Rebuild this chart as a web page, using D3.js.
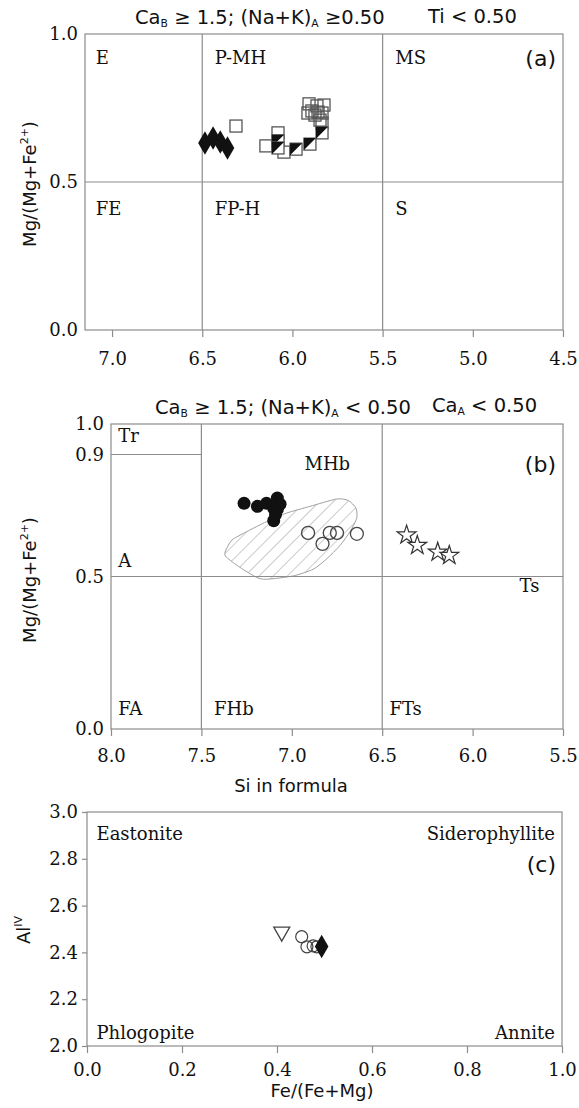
<!DOCTYPE html>
<html>
<head>
<meta charset="utf-8">
<script src="https://cdn.jsdelivr.net/npm/d3@7"></script>
<style>
  body { margin: 0; background: #fff; }
  svg { display: block; }
</style>
</head>
<body>
<div id="chart"></div>
<script>
// ---- panel (a): Si vs Mg/(Mg+Fe2+), CaB >= 1.5, (Na+K)A >= 0.50
const aXTicks = [7.0, 6.5, 6.0, 5.5, 5.0, 4.5];
const aYTicks = [0.0, 0.5, 1.0];
const aSiBounds = [6.5, 5.5];
const aMgBound = 0.5;
const aFields = [
  { t: 'E', x: 7.09, y: 0.9 }, { t: 'P-MH', x: 6.43, y: 0.9 }, { t: 'MS', x: 5.43, y: 0.9 },
  { t: 'FE', x: 7.09, y: 0.39 }, { t: 'FP-H', x: 6.43, y: 0.39 }, { t: 'S', x: 5.43, y: 0.39 }
];
const aDiamonds = [[6.485, 0.632], [6.44, 0.649], [6.40, 0.635], [6.36, 0.615]];
const aSquares = [
  [6.313, 0.689], [6.147, 0.622], [6.08, 0.666], [6.047, 0.601], [5.836, 0.699],
  [5.908, 0.764], [5.864, 0.757], [5.825, 0.760], [5.892, 0.740], [5.858, 0.736],
  [5.914, 0.733], [5.836, 0.733], [5.875, 0.726], [5.847, 0.709]
];
const aHalfSquares = [[6.08, 0.639], [6.08, 0.615], [5.98, 0.611], [5.903, 0.628], [5.836, 0.666]];

// ---- panel (b): CaB >= 1.5, (Na+K)A < 0.50
const bXTicks = [8.0, 7.5, 7.0, 6.5, 6.0, 5.5];
const bYTicks = [0.0, 0.5, 0.9, 1.0];
const bSiBounds = [7.5, 6.5];
const bTrBound = 0.9;
const bFields = [
  { t: 'Tr', x: 7.96, y: 0.94 }, { t: 'MHb', x: 6.93, y: 0.85 }, { t: 'A', x: 7.96, y: 0.53 },
  { t: 'Ts', x: 5.74, y: 0.45 }, { t: 'FA', x: 7.96, y: 0.045 }, { t: 'FHb', x: 7.43, y: 0.045 },
  { t: 'FTs', x: 6.46, y: 0.045 }
];
const bFilled = [
  [7.264, 0.740], [7.19, 0.730], [7.14, 0.740], [7.08, 0.757], [7.10, 0.723],
  [7.09, 0.703], [7.10, 0.683], [7.08, 0.720], [7.065, 0.737]
];
const bOpen = [[6.91, 0.643], [6.79, 0.643], [6.75, 0.643], [6.83, 0.607], [6.64, 0.640]];
const bStars = [[6.365, 0.636], [6.306, 0.602], [6.193, 0.580], [6.129, 0.569]];
const bField = [
  [7.369, 0.580], [7.332, 0.619], [7.249, 0.647], [7.139, 0.680], [7.028, 0.708],
  [6.899, 0.730], [6.752, 0.754], [6.687, 0.749], [6.645, 0.724], [6.641, 0.691],
  [6.678, 0.647], [6.733, 0.602], [6.807, 0.558], [6.881, 0.524], [6.992, 0.502],
  [7.139, 0.491], [7.194, 0.497], [7.287, 0.530], [7.361, 0.563]
];

// ---- panel (c): biotite Fe/(Fe+Mg) vs AlIV
const cXTicks = [0.0, 0.2, 0.4, 0.6, 0.8, 1.0];
const cYTicks = [2.0, 2.2, 2.4, 2.6, 2.8, 3.0];
const cTriangle = [[0.41, 2.478]];
const cCircles = [[0.452, 2.467], [0.463, 2.424], [0.476, 2.428], [0.484, 2.424]];
const cDiamond = [[0.494, 2.425]];

const W = 579, H = 1108;
const LINE = '#8c8c8c', INK = '#111';
const SERIF = '"DejaVu Serif", serif';
const SANS = '"DejaVu Sans", sans-serif';

const svg = d3.select('#chart').append('svg').attr('width', W).attr('height', H);

const hatch = svg.append('defs').append('pattern')
  .attr('id', 'hatch').attr('patternUnits', 'userSpaceOnUse')
  .attr('width', 10).attr('height', 10).attr('patternTransform', 'rotate(45)');
hatch.append('line').attr('x1', 0).attr('y1', 0).attr('x2', 0).attr('y2', 10)
  .attr('stroke', '#9a9a9a').attr('stroke-width', 1);

function frame(x, y, xTicks, yTicks, yTickLen, xPad) {
  const [x0, x1] = x.range(), [y0, y1] = y.range();
  const g = svg.append('g');
  g.append('rect').attr('x', x0).attr('y', y1).attr('width', x1 - x0).attr('height', y0 - y1)
    .attr('fill', 'none').attr('stroke', LINE).attr('stroke-width', 1.2);

  const xa = g.append('g').attr('transform', `translate(0,${y0})`)
    .call(d3.axisBottom(x).tickValues(xTicks).tickFormat(d3.format('.1f')).tickSize(7).tickPadding(xPad));
  const ya = g.append('g').attr('transform', `translate(${x0},0)`)
    .call(d3.axisLeft(y).tickValues(yTicks).tickFormat(d3.format('.1f')).tickSize(yTickLen).tickPadding(yTickLen ? 4 : 7));
  [xa, ya].forEach(a => {
    a.select('.domain').remove();
    a.selectAll('line').attr('stroke', LINE).attr('stroke-width', 1.2);
    a.selectAll('text').attr('font-family', SERIF).attr('font-size', 18).attr('fill', INK);
  });
  return g;
}

function fieldLabels(g, x, y, list) {
  g.selectAll(null).data(list).join('text')
    .attr('x', d => x(d.x)).attr('y', d => y(d.y))
    .attr('font-family', SERIF).attr('font-size', 18).attr('fill', INK)
    .text(d => d.t);
}

function subText(x, y, parts, size, anchor) {
  const t = svg.append('text').attr('x', x).attr('y', y).attr('font-family', SANS)
    .attr('font-size', size).attr('fill', INK).attr('text-anchor', anchor || 'start');
  parts.forEach(p => {
    const s = t.append('tspan').text(p.t);
    if (p.sub) s.attr('font-size', size * 0.55).attr('dy', 3);
    if (p.back) s.attr('dy', p.back);
  });
  return t;
}

function yTitle(cx, cy, parts) {
  const t = svg.append('text').attr('transform', `translate(${cx},${cy}) rotate(-90)`)
    .attr('font-family', SANS).attr('font-size', 18).attr('fill', INK).attr('text-anchor', 'middle');
  parts.forEach(p => {
    const s = t.append('tspan').text(p.t);
    if (p.sup) s.attr('font-size', 11).attr('dy', -8);
    if (p.back) s.attr('dy', p.back);
  });
}

const diamond = d3.symbol().type(d3.symbolDiamond).size(160);

// ================= (a)
const xA = d3.scaleLinear().domain([7.15, 4.5]).range([85, 563]);
const yA = d3.scaleLinear().domain([0, 1]).range([330, 34]);
const gA = frame(xA, yA, aXTicks, aYTicks, 0, 15);

gA.selectAll(null).data(aSiBounds).join('line')
  .attr('x1', d => xA(d)).attr('x2', d => xA(d)).attr('y1', yA(1)).attr('y2', yA(0))
  .attr('stroke', LINE).attr('stroke-width', 1.2);
gA.append('line').attr('x1', xA(7.15)).attr('x2', xA(4.5)).attr('y1', yA(aMgBound)).attr('y2', yA(aMgBound))
  .attr('stroke', LINE).attr('stroke-width', 1.2);
fieldLabels(gA, xA, yA, aFields);
gA.append('text').attr('x', 556).attr('y', 66).attr('text-anchor', 'end')
  .attr('font-family', SANS).attr('font-size', 22).attr('fill', INK).text('(a)');

const sq = 12;
gA.selectAll(null).data(aSquares).join('rect')
  .attr('x', d => xA(d[0]) - sq / 2).attr('y', d => yA(d[1]) - sq / 2)
  .attr('width', sq).attr('height', sq)
  .attr('fill', 'none').attr('stroke', '#555').attr('stroke-width', 1.3);
const half = gA.selectAll(null).data(aHalfSquares).join('g')
  .attr('transform', d => `translate(${xA(d[0])},${yA(d[1])})`);
half.append('rect').attr('x', -sq / 2).attr('y', -sq / 2).attr('width', sq).attr('height', sq)
  .attr('fill', '#fff').attr('stroke', '#555').attr('stroke-width', 1.3);
half.append('path').attr('d', `M${-sq / 2},${-sq / 2}L${sq / 2},${-sq / 2}L${-sq / 2},${sq / 2}Z`)
  .attr('fill', '#111');
gA.selectAll(null).data(aDiamonds).join('path')
  .attr('transform', d => `translate(${xA(d[0])},${yA(d[1])})`)
  .attr('d', diamond).attr('fill', '#111');

subText(135, 24, [{ t: 'Ca' }, { t: 'B', sub: true }, { t: ' ≥ 1.5; (Na+K)', back: -3 }, { t: 'A', sub: true }, { t: ' ≥0.50', back: -3 }], 19.5);
subText(428, 23, [{ t: 'Ti < 0.50' }], 19.5);
yTitle(36, 184, [{ t: 'Mg/(Mg+Fe' }, { t: '2+', sup: true }, { t: ')', back: 8 }]);

// ================= (b)
const xB = d3.scaleLinear().domain([8.0, 5.5]).range([111, 563]);
const yB = d3.scaleLinear().domain([0, 1]).range([729, 424]);
const gB = frame(xB, yB, bXTicks, bYTicks, 0, 13);

gB.append('path').datum(bField)
  .attr('d', d3.line().x(d => xB(d[0])).y(d => yB(d[1])).curve(d3.curveCardinalClosed.tension(0.3)))
  .attr('fill', 'url(#hatch)').attr('stroke', '#a0a0a0').attr('stroke-width', 1);
gB.selectAll(null).data(bSiBounds).join('line')
  .attr('x1', d => xB(d)).attr('x2', d => xB(d)).attr('y1', yB(1)).attr('y2', yB(0))
  .attr('stroke', LINE).attr('stroke-width', 1.2);
gB.append('line').attr('x1', xB(8)).attr('x2', xB(5.5)).attr('y1', yB(0.5)).attr('y2', yB(0.5))
  .attr('stroke', LINE).attr('stroke-width', 1.2);
gB.append('line').attr('x1', xB(8)).attr('x2', xB(7.5)).attr('y1', yB(bTrBound)).attr('y2', yB(bTrBound))
  .attr('stroke', LINE).attr('stroke-width', 1.2);
fieldLabels(gB, xB, yB, bFields);
gB.append('text').attr('x', 556).attr('y', 472).attr('text-anchor', 'end')
  .attr('font-family', SANS).attr('font-size', 22).attr('fill', INK).text('(b)');

gB.selectAll(null).data(bFilled).join('circle')
  .attr('cx', d => xB(d[0])).attr('cy', d => yB(d[1])).attr('r', 6.5).attr('fill', '#111');
gB.selectAll(null).data(bOpen).join('circle')
  .attr('cx', d => xB(d[0])).attr('cy', d => yB(d[1])).attr('r', 6.5)
  .attr('fill', 'none').attr('stroke', '#444').attr('stroke-width', 1.3);
gB.selectAll(null).data(bStars).join('path')
  .attr('transform', d => `translate(${xB(d[0])},${yB(d[1])})`)
  .attr('d', d3.symbol().type(d3.symbolStar).size(110))
  .attr('fill', '#fff').attr('stroke', '#333').attr('stroke-width', 1.2);

subText(155, 414, [{ t: 'Ca' }, { t: 'B', sub: true }, { t: ' ≥ 1.5; (Na+K)', back: -3 }, { t: 'A', sub: true }, { t: ' < 0.50', back: -3 }], 19.5);
subText(432, 412, [{ t: 'Ca' }, { t: 'A', sub: true }, { t: ' < 0.50', back: -3 }], 19.5);
yTitle(36, 580, [{ t: 'Mg/(Mg+Fe' }, { t: '2+', sup: true }, { t: ')', back: 8 }]);
svg.append('text').attr('x', 291).attr('y', 792).attr('text-anchor', 'middle')
  .attr('font-family', SANS).attr('font-size', 18).attr('fill', INK).text('Si in formula');

// ================= (c)
const xC = d3.scaleLinear().domain([0, 1]).range([87, 562]);
const yC = d3.scaleLinear().domain([2, 3]).range([1046, 812]);
const gC = frame(xC, yC, cXTicks, cYTicks, 5, 10);
const cLabels = [
  { t: 'Eastonite', x: 0.02, y: 2.88, a: 'start' }, { t: 'Siderophyllite', x: 0.985, y: 2.88, a: 'end' },
  { t: 'Phlogopite', x: 0.02, y: 2.03, a: 'start' }, { t: 'Annite', x: 0.985, y: 2.03, a: 'end' }
];
gC.selectAll(null).data(cLabels).join('text')
  .attr('x', d => xC(d.x)).attr('y', d => yC(d.y)).attr('text-anchor', d => d.a)
  .attr('font-family', SERIF).attr('font-size', 18).attr('fill', INK).text(d => d.t);
gC.append('text').attr('x', 556).attr('y', 872).attr('text-anchor', 'end')
  .attr('font-family', SANS).attr('font-size', 22).attr('fill', INK).text('(c)');

gC.selectAll(null).data(cTriangle).join('path')
  .attr('d', d => { const x = xC(d[0]), y = yC(d[1]); return `M${x - 8},${y - 7}L${x + 8},${y - 7}L${x},${y + 7}Z`; })
  .attr('fill', 'none').attr('stroke', '#444').attr('stroke-width', 1.3);
gC.selectAll(null).data(cCircles).join('circle')
  .attr('cx', d => xC(d[0])).attr('cy', d => yC(d[1])).attr('r', 6)
  .attr('fill', 'none').attr('stroke', '#444').attr('stroke-width', 1.2);
gC.selectAll(null).data(cDiamond).join('path')
  .attr('transform', d => `translate(${xC(d[0])},${yC(d[1])})`)
  .attr('d', diamond).attr('fill', '#111');

yTitle(30, 930, [{ t: 'Al' }, { t: 'IV', sup: true }]);
svg.append('text').attr('x', 322).attr('y', 1097).attr('text-anchor', 'middle')
  .attr('font-family', SANS).attr('font-size', 18).attr('fill', INK).text('Fe/(Fe+Mg)');
</script>
</body>
</html>
